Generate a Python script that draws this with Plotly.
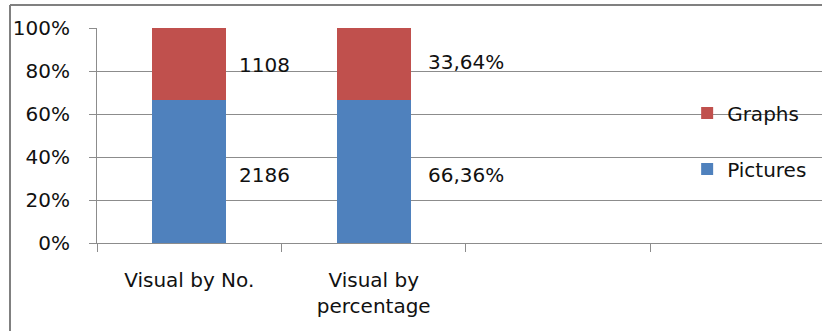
import plotly.graph_objects as go

# Category labels (two trailing empty slots keep the axis four categories wide)
categories = ["Visual by No.", "Visual by<br>percentage", " ", "  "]
bar_categories = categories[:2]

# Series values: first column in counts, second already in percent
pictures = [2186, 66.36]
graphs = [1108, 33.64]

y_ticks = [0, 20, 40, 60, 80, 100]
y_tick_text = [f"{v}%" for v in y_ticks]

BLUE = "#4F81BD"
RED = "#C0504D"
GRID = "#8C8C8C"
FONT = dict(family="DejaVu Sans", size=20, color="#111111")

fig = go.Figure()
fig.add_trace(go.Bar(name="Pictures", x=bar_categories, y=pictures,
                     marker=dict(color=BLUE, line=dict(width=0)),
                     legend="legend2"))
fig.add_trace(go.Bar(name="Graphs", x=bar_categories, y=graphs,
                     marker=dict(color=RED, line=dict(width=0)),
                     legend="legend"))


def pct_text(v):
    return f"{v:.2f}".replace(".", ",") + "%"


# Value labels beside each stacked segment
for i, cat in enumerate(bar_categories):
    total = pictures[i] + graphs[i]
    p_share = pictures[i] / total * 100
    g_share = graphs[i] / total * 100
    if i == 0:
        p_lab, g_lab = str(pictures[i]), str(graphs[i])
        shift, g_y = 48, -1
    else:
        p_lab, g_lab = pct_text(pictures[i]), pct_text(graphs[i])
        shift, g_y = 52, 2
    fig.add_annotation(x=cat, y=p_share / 2, text=p_lab, showarrow=False,
                       xanchor="left", yanchor="middle", xshift=shift,
                       yshift=-3, font=FONT)
    fig.add_annotation(x=cat, y=p_share + g_share / 2, text=g_lab,
                       showarrow=False, xanchor="left", yanchor="middle",
                       xshift=shift, yshift=g_y, font=FONT)

# Outer chart frame (left and top edges)
fig.add_shape(type="line", xref="paper", yref="paper",
              x0=-0.12, x1=-0.12, y0=1.107, y1=-0.5,
              line=dict(color="#808080", width=2))
fig.add_shape(type="line", xref="paper", yref="paper",
              x0=-0.12, x1=1.05, y0=1.107, y1=1.107,
              line=dict(color="#808080", width=2))

legend_common = dict(bgcolor="rgba(0,0,0,0)", font=FONT, xref="paper",
                     yref="paper", xanchor="left", yanchor="middle",
                     borderwidth=0)

fig.update_layout(
    width=822, height=331,
    margin=dict(l=97, r=0, t=28, b=88),
    paper_bgcolor="white", plot_bgcolor="white",
    barmode="stack", barnorm="percent", bargap=0.6,
    font=FONT,
    showlegend=True,
    legend=dict(x=0.814, y=0.605, **legend_common),
    legend2=dict(x=0.814, y=0.344, **legend_common),
    xaxis=dict(type="category", categoryorder="array", categoryarray=categories,
               range=[-0.5, 3.43], tickson="boundaries", ticks="outside",
               ticklen=8, tickcolor=GRID, tickwidth=1,
               showline=True, linecolor=GRID, linewidth=1,
               showgrid=False, ticklabelstandoff=19, tickfont=FONT),
    yaxis=dict(range=[0, 100], tickmode="array", tickvals=y_ticks,
               ticktext=y_tick_text,
               ticks="outside", ticklen=7, tickcolor=GRID, tickwidth=1,
               showline=True, linecolor=GRID, linewidth=1,
               showgrid=True, gridcolor=GRID, gridwidth=1,
               zeroline=False, ticklabelstandoff=15, tickfont=FONT),
)

fig.write_html("out.html")
